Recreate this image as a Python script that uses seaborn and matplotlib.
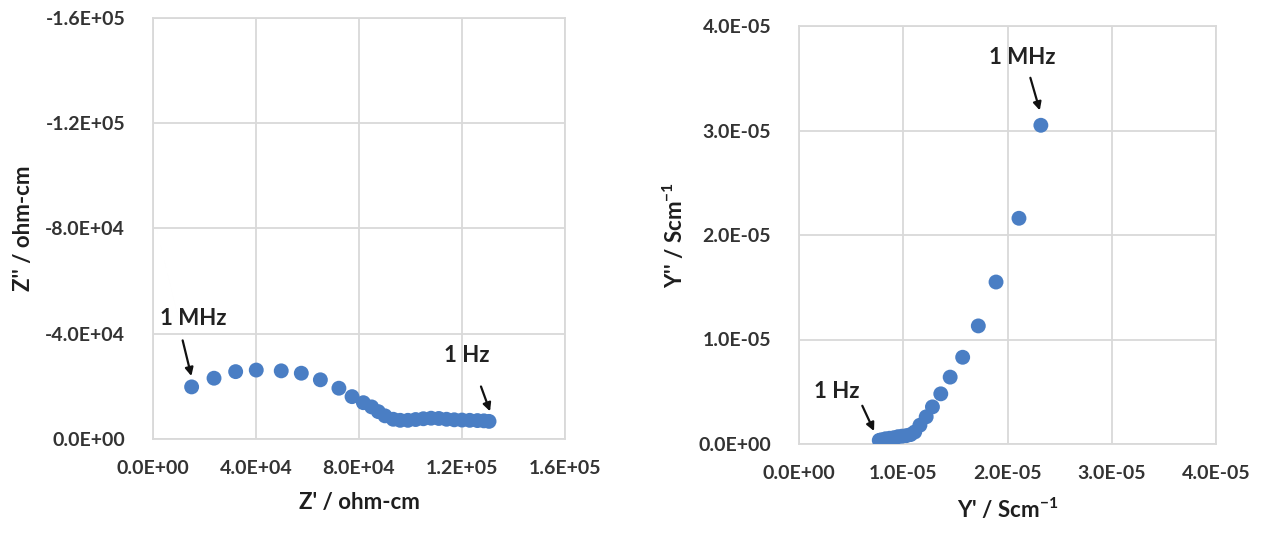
import matplotlib
matplotlib.use("Agg")
import matplotlib.pyplot as plt
from matplotlib.ticker import FuncFormatter
import numpy as np
import pandas as pd
import seaborn as sns

# Impedance (Nyquist) data: Z' and Z'' in ohm-cm, from 1 MHz down to 1 Hz
z_real = [15000, 23700, 32100, 40100, 49800, 57600, 65000, 72200, 77300, 81700,
          84900, 87500, 90100, 93300, 96000, 99000, 102000, 105000, 108000, 111000,
          114000, 117000, 120000, 123000, 126000, 128500, 130500]
z_imag = [-19800, -23100, -25600, -26200, -25900, -25000, -22500, -19300, -16100, -13800,
          -12200, -10400, -8800, -7500, -7100, -7100, -7400, -7700, -7900, -7800,
          -7500, -7300, -7200, -7100, -7000, -6900, -6700]

# Admittance data: Y' and Y'' in S/cm, from 1 MHz down to 1 Hz
y_real = [2.32e-5, 2.11e-5, 1.89e-5, 1.72e-5, 1.57e-5, 1.45e-5, 1.36e-5, 1.28e-5, 1.22e-5,
          1.16e-5, 1.11e-5, 1.07e-5, 1.03e-5, 0.99e-5, 0.95e-5, 0.91e-5, 0.87e-5, 0.83e-5,
          0.79e-5, 0.77e-5]
y_imag = [3.05e-5, 2.16e-5, 1.55e-5, 1.13e-5, 0.83e-5, 0.64e-5, 0.48e-5, 0.355e-5, 0.26e-5,
          0.18e-5, 0.115e-5, 0.09e-5, 0.08e-5, 0.075e-5, 0.07e-5, 0.06e-5, 0.055e-5, 0.05e-5,
          0.04e-5, 0.035e-5]

z_ticks = [0, 4e4, 8e4, 1.2e5, 1.6e5]
zi_ticks = [0, -4e4, -8e4, -1.2e5, -1.6e5]
y_ticks = [0, 1e-5, 2e-5, 3e-5, 4e-5]

sns.set_theme(style="whitegrid")
plt.rcParams["font.family"] = ["Lato", "DejaVu Sans"]
plt.rcParams["font.weight"] = "bold"
plt.rcParams["mathtext.fontset"] = "custom"
plt.rcParams["mathtext.rm"] = "Lato:bold"
plt.rcParams["mathtext.bf"] = "Lato:bold"

BLUE = "#4a7ec4"
GRID = "#d9d9d9"
TICK_COLOR = "#333333"
LABEL_COLOR = "#1e1e1e"

fig = plt.figure(figsize=(12.63, 5.35), dpi=100)
ax1 = fig.add_axes([153 / 1263, 1 - 439 / 535, 412 / 1263, 421 / 535])
ax2 = fig.add_axes([799 / 1263, 1 - 444 / 535, 417 / 1263, 418 / 535])

sci = FuncFormatter(lambda v, p: "{:.1E}".format(v))

imp = pd.DataFrame({"zr": z_real, "zi": z_imag})
adm = pd.DataFrame({"yr": y_real, "yi": y_imag})

sns.scatterplot(data=imp, x="zr", y="zi", ax=ax1, color=BLUE, s=115, edgecolor="none", zorder=3)
sns.scatterplot(data=adm, x="yr", y="yi", ax=ax2, color=BLUE, s=115, edgecolor="none", zorder=3)

ax1.set_xlim(0, 1.6e5)
ax1.set_ylim(0, -1.6e5)
ax1.set_xticks(z_ticks)
ax1.set_yticks(zi_ticks)
ax2.set_xlim(0, 4e-5)
ax2.set_ylim(0, 4e-5)
ax2.set_xticks(y_ticks)
ax2.set_yticks(y_ticks)

for ax in (ax1, ax2):
    ax.set_facecolor("white")
    ax.xaxis.set_major_formatter(sci)
    ax.yaxis.set_major_formatter(sci)
    ax.grid(True, color=GRID, linewidth=1.3)
    for sp in ax.spines.values():
        sp.set_color(GRID)
        sp.set_linewidth(1.3)
    ax.tick_params(axis="both", length=0, labelsize=14, labelcolor=TICK_COLOR)
    ax.tick_params(axis="x", pad=15)
    ax.tick_params(axis="y", pad=20)
    for lbl in ax.get_xticklabels() + ax.get_yticklabels():
        lbl.set_fontweight("bold")

lab = dict(fontsize=16, fontweight="bold", color=LABEL_COLOR)
ax1.set_xlabel("Z' / ohm-cm", labelpad=11, **lab)
ax1.set_ylabel("Z'' / ohm-cm", labelpad=8, **lab)
ax2.set_xlabel("Y' / Scm$^{\\mathrm{-1}}$", labelpad=11, **lab)
ax2.set_ylabel("Y'' / Scm$^{\\mathrm{-1}}$", labelpad=8, **lab)

arrow = dict(arrowstyle="-|>", color="#111111", lw=1.6, mutation_scale=12)
txt = dict(fontsize=16, fontweight="bold", color="#222222", ha="center", va="center")

# frequency markers on the impedance plot
ax1.text(15500, -45700, "1 MHz", **txt)
ax1.annotate("", xy=(15150, -22900), xytext=(11260, -38500), arrowprops=arrow)
ax1.text(121900, -31600, "1 Hz", **txt)
ax1.annotate("", xy=(131260, -9520), xytext=(127000, -20950), arrowprops=arrow)

# frequency markers on the admittance plot
ax2.text(2.144e-5, 3.70e-5, "1 MHz", **txt)
ax2.annotate("", xy=(2.317e-5, 3.167e-5), xytext=(2.212e-5, 3.53e-5), arrowprops=arrow)
ax2.text(0.365e-5, 0.505e-5, "1 Hz", **txt)
ax2.annotate("", xy=(0.731e-5, 0.10e-5), xytext=(0.596e-5, 0.39e-5), arrowprops=arrow)

fig.savefig("out.png", dpi=100, facecolor="white")
